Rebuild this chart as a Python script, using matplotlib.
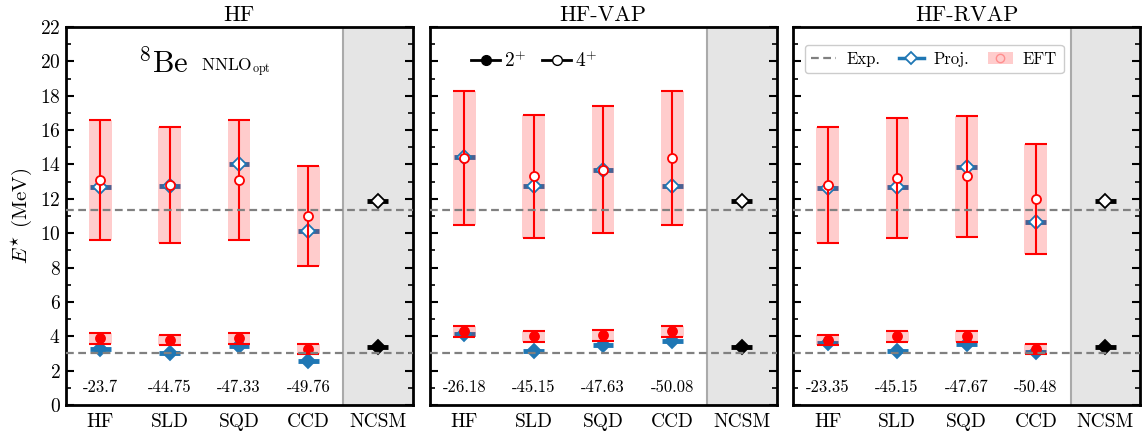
import matplotlib
matplotlib.use("Agg")
import matplotlib.pyplot as plt
import numpy as np
from matplotlib.lines import Line2D
from matplotlib.patches import Patch

plt.rcParams['font.family'] = 'serif'
plt.rcParams['font.serif'] = ['cmr10', 'DejaVu Serif']
plt.rcParams['mathtext.fontset'] = 'cm'
plt.rcParams['axes.unicode_minus'] = False
plt.rcParams['axes.formatter.use_mathtext'] = True

methods = ['HF', 'SLD', 'SQD', 'CCD']
titles = ['HF', 'HF-VAP', 'HF-RVAP']

# EFT 4+ (center, low, high)
eft4_c = [[13.1, 12.8, 13.1, 11.0], [14.4, 13.3, 13.7, 14.4], [12.8, 13.2, 13.3, 12.0]]
eft4_lo = [[9.6, 9.4, 9.6, 8.1], [10.5, 9.7, 10.0, 10.5], [9.4, 9.7, 9.8, 8.8]]
eft4_hi = [[16.6, 16.2, 16.6, 13.9], [18.3, 16.9, 17.4, 18.3], [16.2, 16.7, 16.8, 15.2]]
proj4 = [[12.7, 12.75, 14.0, 10.1], [14.45, 12.75, 13.65, 12.75], [12.65, 12.7, 13.87, 10.63]]

# EFT 2+
eft2_c = [[3.88, 3.79, 3.88, 3.27], [4.29, 4.0, 4.1, 4.29], [3.78, 4.0, 4.0, 3.27]]
eft2_lo = [[3.57, 3.48, 3.57, 2.96], [3.96, 3.67, 3.75, 3.96], [3.48, 3.67, 3.67, 2.96]]
eft2_hi = [[4.19, 4.1, 4.19, 3.57], [4.6, 4.3, 4.37, 4.6], [4.07, 4.3, 4.3, 3.57]]
proj2 = [[3.27, 3.05, 3.45, 2.58], [4.13, 3.17, 3.51, 3.7], [3.6, 3.17, 3.55, 3.1]]

gs_energy = [['-23.7', '-44.75', '-47.33', '-49.76'],
             ['-26.18', '-45.15', '-47.63', '-50.08'],
             ['-23.35', '-45.15', '-47.67', '-50.48']]

exp_2, exp_4 = 3.03, 11.35
ncsm_2, ncsm_4 = 3.4, 11.9

W, H = 1143, 438
fig = plt.figure(figsize=(W / 100, H / 100), dpi=100)
lefts = [65.5, 429.5, 793.0]
axw = 347.0
bottom_px, top_px = 405.0, 27.0

blue = '#1f77b4'
x = np.arange(len(methods))
xn = len(methods)

axes = []
for p in range(3):
    ax = fig.add_axes([lefts[p] / W, (H - bottom_px) / H, axw / W, (bottom_px - top_px) / H])
    axes.append(ax)
    ax.set_xlim(-0.5, 4.5)
    ax.set_ylim(0, 22)
    ax.axvspan(3.5, 4.5, color='#e5e5e5', zorder=0, lw=0)
    ax.axvline(3.5, color='#aaaaaa', lw=1.5, zorder=0.5)
    ax.axhline(exp_2, color='#808080', ls=(0, (3.5, 2)), lw=1.6, zorder=6)
    ax.axhline(exp_4, color='#808080', ls=(0, (3.5, 2)), lw=1.6, zorder=6)

    for (c, lo, hi, pr, filled) in [(eft4_c[p], eft4_lo[p], eft4_hi[p], proj4[p], False),
                                    (eft2_c[p], eft2_lo[p], eft2_hi[p], proj2[p], True)]:
        c = np.array(c); lo = np.array(lo); hi = np.array(hi); pr = np.array(pr)
        ax.errorbar(x, pr, xerr=0.15, fmt='none', ecolor=blue, elinewidth=3.5, capsize=0, zorder=1)
        ax.bar(x, hi - lo, bottom=lo, width=0.33, color='red', alpha=0.2, lw=0, zorder=2)
        ax.plot(x, pr, ls='none', marker='D', ms=6.8, mew=1.3, mec=blue,
                mfc=blue if filled else 'white', zorder=3)
        ax.errorbar(x, c, yerr=[c - lo, hi - c], fmt='none', ecolor='red', elinewidth=1.5,
                    capsize=8, capthick=1.5, zorder=4)
        ax.plot(x, c, ls='none', marker='o', ms=6.5, mew=1.3, mec='red',
                mfc='red' if filled else 'white', zorder=5)

    # NCSM
    ax.errorbar([xn], [ncsm_4], xerr=0.15, fmt='none', ecolor='k', elinewidth=3.5, zorder=3)
    ax.plot([xn], [ncsm_4], ls='none', marker='D', ms=6.8, mew=1.3, mec='k', mfc='white', zorder=4)
    ax.errorbar([xn], [ncsm_2], xerr=0.15, fmt='none', ecolor='k', elinewidth=3.5, zorder=3)
    ax.plot([xn], [ncsm_2], ls='none', marker='D', ms=6.8, mew=1.3, mec='k', mfc='k', zorder=4)

    for i, lab in enumerate(gs_energy[p]):
        ax.text(x[i], 1.05, lab, ha='center', va='center', fontsize=12)

    ax.set_xticks(list(x) + [xn])
    ax.set_xticklabels(methods + ['NCSM'], fontsize=14)
    ax.set_yticks(np.arange(0, 23, 2))
    ax.set_yticks(np.arange(0, 23, 1), minor=True)
    ax.tick_params(axis='y', which='both', direction='in', left=True, right=True)
    ax.tick_params(axis='y', which='major', length=6, width=1.5)
    ax.tick_params(axis='y', which='minor', length=3.5, width=1.2)
    ax.tick_params(axis='x', length=0, pad=6)
    if p == 0:
        ax.tick_params(axis='y', labelsize=14)
        ax.set_ylabel(r'$E^{\star}$ (MeV)', fontsize=15, labelpad=4)
    else:
        ax.tick_params(axis='y', labelleft=False)
    for s in ax.spines.values():
        s.set_linewidth(2)
    ax.set_title(titles[p], fontsize=16, pad=4, fontweight='normal')

axes[0].text(0.21, 0.905, r'$^{8}$Be', transform=axes[0].transAxes, fontsize=22,
             ha='left', va='center')
axes[0].text(0.39, 0.893, r'NNLO$_{\mathrm{opt}}$', transform=axes[0].transAxes, fontsize=12.5,
             ha='left', va='center')

h2 = Line2D([], [], color='k', lw=2, marker='o', ms=7, mfc='k', mec='k')
h4 = Line2D([], [], color='k', lw=2, marker='o', ms=7, mfc='white', mec='k')
axes[1].legend([h2, h4], [r'$2^{+}$', r'$4^{+}$'], loc='upper left', bbox_to_anchor=(0.07, 0.985),
               ncol=2, frameon=False, fontsize=14, handlelength=1.5, handletextpad=0.2,
               columnspacing=0.8)

hexp = Line2D([], [], color='#808080', ls=(0, (3.5, 2)), lw=1.6)
hproj = Line2D([], [], color=blue, lw=2.5, marker='D', ms=6, mfc='white', mec=blue, mew=1.3)
hband = Patch(facecolor='red', alpha=0.2, lw=0)
hcirc = Line2D([], [], ls='none', marker='o', ms=6, mfc='none', mec='red', alpha=0.3)
axes[2].legend([hexp, hproj, (hband, hcirc)], ['Exp.', 'Proj.', 'EFT'], loc='upper left',
               ncol=3, fontsize=12, frameon=True, fancybox=True, framealpha=1,
               edgecolor='#cccccc', handlelength=1.5, columnspacing=1.1, handletextpad=0.6,
               bbox_to_anchor=(0.01, 0.975))

fig.savefig('out.png', dpi=100)
